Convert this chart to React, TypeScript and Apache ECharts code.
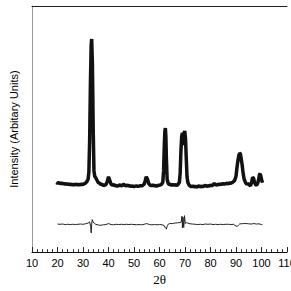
import React, { useEffect, useRef } from "react";
import * as echarts from "echarts";

const mainTwoTheta = [
  19.5, 20, 20.5, 21, 21.5, 22, 22.5, 23, 23.5, 24, 24.5, 25, 25.5, 26, 26.5, 27, 27.5, 28, 28.5, 29, 29.5, 30, 30.5, 31, 31.5, 32,
  32.3, 32.6, 32.9, 33.2, 33.4, 33.7, 34.0, 34.3, 34.6, 35, 35.5, 36, 36.5, 37, 37.5, 38, 38.5, 39, 39.5, 40, 40.5, 41, 41.5,
  42, 42.5, 43, 43.5, 44, 44.5, 45, 45.5, 46, 46.5, 47, 47.5, 48, 48.5, 49, 49.5, 50, 50.5, 51, 51.5, 52, 52.5, 53, 53.5, 54,
  54.4, 54.8, 55.3, 55.8, 56.3, 56.8, 57.3, 57.8, 58.3, 58.8, 59.3, 59.8, 60.3, 60.8, 61.3, 61.6, 61.9, 62.1, 62.3, 62.5, 62.7,
  63.0, 63.4, 63.8, 64.3, 64.8, 65.3, 65.8, 66.3, 66.8, 67.3, 67.8, 68.1, 68.4, 68.7, 69.0, 69.2, 69.4, 69.6, 69.9, 70.2, 70.5,
  70.8, 71.1, 71.5, 72, 72.5, 73, 73.5, 74, 74.5, 75, 75.5, 76, 76.5, 77, 77.5, 78, 78.5, 79, 79.5, 80, 80.5, 81, 81.5, 82,
  82.5, 83, 83.5, 84, 84.5, 85, 85.5, 86, 86.5, 87, 87.5, 88, 88.5, 89, 89.5, 90, 90.4, 90.8, 91.1, 91.4, 91.7, 92.0, 92.4,
  92.8, 93.2, 93.7, 94.2, 94.7, 95.2, 95.7, 96.1, 96.5, 96.9, 97.3, 97.7, 98.1, 98.5, 98.9, 99.2, 99.5, 99.8, 100.1, 100.4,
];
const mainIntensity = [
  28.3, 28.0, 28.2, 27.8, 28.1, 27.7, 27.9, 27.6, 27.8, 27.5, 27.7, 27.4, 27.6, 27.3, 27.5, 27.4, 27.6, 27.3, 27.5, 27.4, 27.6, 27.5, 27.8, 28.0, 28.6, 29.6,
  32.5, 45, 68, 84, 86.6, 76, 50, 33, 30.8, 30.2, 29.2, 28.2, 28.0, 27.4, 27.6, 27.0, 27.3, 27.4, 28.6, 30.6, 29.2, 27.6, 27.2,
  27.5, 26.9, 27.1, 26.8, 27.0, 27.4, 26.9, 27.2, 27.6, 27.0, 26.9, 27.3, 26.8, 27.0, 26.7, 26.9, 26.6, 26.8, 26.9, 26.7, 26.8, 27.0, 26.9, 27.2, 27.6,
  29.0, 30.6, 29.6, 27.8, 27.2, 27.0, 27.3, 26.9, 27.1, 26.8, 27.1, 27.2, 27.3, 27.5, 28.4, 33, 44, 49, 50.4, 47, 38,
  29.5, 28.0, 27.4, 27.6, 27.1, 27.5, 27.2, 27.4, 27.1, 27.6, 28.4, 32, 41, 47, 48.5, 45, 43.5, 48.2, 49.2, 46, 38,
  30.5, 28.4, 27.4, 26.9, 26.6, 26.9, 26.5, 26.8, 26.4, 26.7, 26.9, 26.5, 26.8, 26.6, 26.9, 27.1, 26.7, 27.0, 26.8, 27.2, 27.0, 27.3, 27.9, 27.4, 27.2,
  27.6, 27.4, 27.7, 27.5, 27.9, 27.6, 27.8, 28.0, 27.7, 28.1, 28.0, 28.3, 28.6, 29.2, 30.8, 34.5, 37.5, 39.2, 40.2, 40.0, 38.2, 35.5, 32.0,
  29.6, 28.3, 27.6, 27.9, 27.3, 27.0, 28.2, 30.4, 30.0, 28.2, 27.4, 27.2, 27.9, 29.6, 31.5, 31.8, 30.6, 29.2, 28.2, 27.6,
];

const diffTwoTheta = [
  20, 21, 22, 23, 24, 25, 26, 27, 28, 29, 30, 31, 32, 32.6, 33.0, 33.2, 33.4, 33.6, 34, 34.5, 35, 36, 37, 38, 39, 40, 41,
  42, 43, 44, 45, 46, 47, 48, 49, 50, 51, 52, 53, 54, 55, 56, 57, 58, 59, 60, 61, 61.8, 62.3, 62.7, 63.1, 63.5, 64, 65, 66,
  67, 68, 68.5, 68.8, 69.0, 69.2, 69.5, 69.8, 70.1, 70.5, 71, 72, 73, 74, 75, 76, 77, 78, 79, 80, 81, 82, 83, 84, 85, 86,
  87, 88, 89, 90, 90.5, 91, 91.5, 92, 93, 94, 95, 96, 97, 98, 99, 100, 100.4,
];
const diffIntensity = [
  11.4, 11.3, 11.4, 11.2, 11.3, 11.2, 11.3, 11.2, 11.3, 11.4, 11.3, 11.5, 11.8, 12.3, 10.5, 7.8, 11.0, 13.2, 12.2, 11.6, 11.3, 11.0, 10.9, 11.1, 11.2, 11.6, 11.2,
  11.1, 11.3, 11.2, 11.3, 11.2, 11.3, 11.2, 11.3, 11.2, 11.1, 11.2, 11.1, 11.3, 11.6, 11.2, 11.1, 11.2, 11.1, 11.2, 11.1, 10.8, 9.8, 9.4, 10.8, 11.4, 11.6, 11.6, 11.8,
  11.9, 12.0, 12.2, 14.6, 9.8, 14.2, 10.0, 14.8, 11.6, 12.0, 11.8, 11.5, 11.4, 11.3, 11.2, 11.3, 11.2, 11.4, 11.3, 11.4, 11.2, 11.3, 11.2, 11.3, 11.2, 11.3,
  11.3, 11.2, 11.3, 10.6, 10.4, 11.0, 11.5, 11.5, 11.6, 11.6, 11.5, 11.4, 11.6, 11.4, 11.5, 11.2, 11.1,
];

const xTickLabels = ["10", "20", "30", "40", "50", "60", "70", "80", "90", "100", "110"];

export default function App() {
  const ref = useRef<HTMLDivElement>(null);
  useEffect(() => {
    if (!ref.current) return;
    const chart = echarts.init(ref.current, undefined, { renderer: "svg" });
    const mainData = mainTwoTheta.map((x, i) => [x, mainIntensity[i]]);
    const diffData = diffTwoTheta.map((x, i) => [x, diffIntensity[i]]);
    chart.setOption({
      animation: false,
      backgroundColor: "#ffffff",
      grid: { left: 30, right: 13, top: 6, bottom: 31, containLabel: false },
      xAxis: [
        {
          type: "value",
          position: "bottom",
          min: 10,
          max: 110,
          interval: 10,
          name: "2θ",
          nameLocation: "middle",
          nameGap: 18,
          nameTextStyle: { fontFamily: "Liberation Serif", fontSize: 13, color: "#000" },
          axisLine: { show: true, lineStyle: { color: "#111", width: 1 } },
          axisTick: { show: true, inside: true, length: 5, lineStyle: { color: "#222" } },
          minorTick: { show: true, splitNumber: 5, length: 3, lineStyle: { color: "#333" } },
          axisLabel: {
            margin: 5,
            fontFamily: "Liberation Sans",
            fontSize: 11,
            color: "#000",
            formatter: (v: number) => xTickLabels[Math.round((v - 10) / 10)] ?? String(v),
          },
          splitLine: { show: false },
        },
        {
          type: "value",
          position: "top",
          min: 10,
          max: 110,
          axisLine: { show: true, lineStyle: { color: "#222", width: 1 } },
          axisTick: { show: false },
          axisLabel: { show: false },
          splitLine: { show: false },
        },
      ],
      yAxis: {
        type: "value",
        min: 0,
        max: 100,
        name: "Intensity (Arbitary Units)",
        nameLocation: "middle",
        nameGap: 13,
        nameTextStyle: { fontFamily: "Liberation Sans", fontSize: 11, color: "#000" },
        axisLine: { show: true, lineStyle: { color: "#999", width: 1 } },
        axisTick: { show: false },
        axisLabel: { show: false },
        splitLine: { show: false },
      },
      series: [
        {
          type: "line",
          data: mainData,
          showSymbol: false,
          symbol: "none",
          lineStyle: { color: "#111", width: 3.5 },
          z: 3,
        },
        {
          type: "line",
          data: diffData,
          showSymbol: false,
          symbol: "none",
          lineStyle: { color: "#222", width: 1 },
          z: 3,
        },
      ],
    });
    return () => chart.dispose();
  }, []);
  return (
    <div
      ref={ref}
      style={{ position: "fixed", left: 0, top: 0, width: 300, height: 291, background: "#fff" }}
    />
  );
}
